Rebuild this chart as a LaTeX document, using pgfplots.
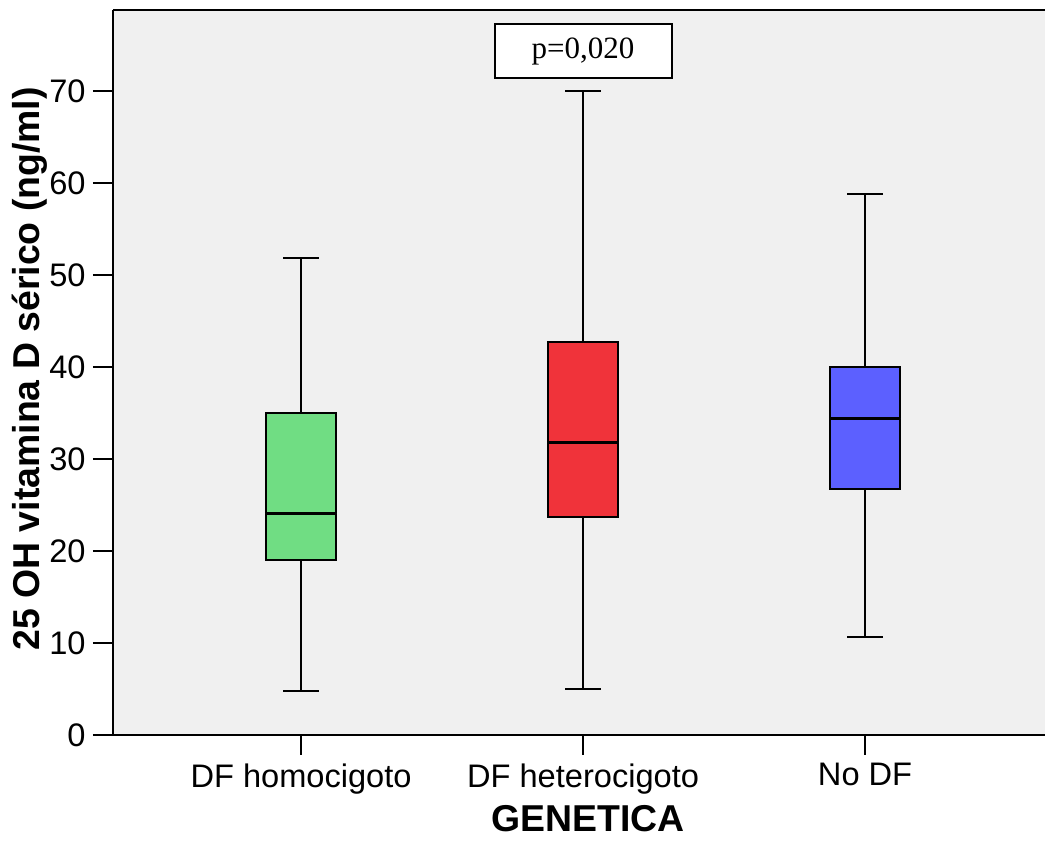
\documentclass[border=0pt]{standalone}
\usepackage{pgfplots}
\pgfplotsset{compat=1.18}
\usepgfplotslibrary{statistics}
\usetikzlibrary{calc}
\usepackage{fontspec}
\setmainfont{Liberation Sans}
\newfontfamily\serifp{Liberation Serif}
\definecolor{bg}{RGB}{240,240,240}
\definecolor{boxgreen}{RGB}{112,221,131}
\definecolor{boxred}{RGB}{240,51,58}
\definecolor{boxblue}{RGB}{92,96,255}

\begin{document}
\begin{tikzpicture}
\begin{axis}[
  scale only axis, width=466pt, height=362.5pt,
  xmin=-0.667, xmax=2.638, ymin=0, ymax=78.8,
  axis background/.style={fill=bg},
  axis x line=box, axis y line*=left,
  xtick={0,1,2},
  xticklabels={DF homocigoto, DF heterocigoto, No DF},
  ytick={0,10,...,70},
  tick align=outside, xtick pos=left, ytick pos=left,
  major tick length=10pt,
  every tick/.style={black, line width=1pt},
  axis line style={line width=1pt, black},
  tick label style={font=\fontsize{16.3}{19}\selectfont},
  /pgf/number format/assume math mode=true,
  yticklabel style={inner sep=0pt, xshift=-3.5pt},
  xticklabel style={inner sep=0pt, yshift=-4pt},
  xlabel={GENETICA},
  ylabel={25 OH vitamina D sérico (ng/ml)},
  label style={font=\bfseries\fontsize{18.7}{22}\selectfont},
  xlabel style={at={(axis description cs:0.510,-0.115)}, anchor=center},
  ylabel style={at={(axis description cs:-0.089,0.505)}, anchor=center},
  boxplot/box extend=0.25,
  boxplot/whisker extend=0.128,
  boxplot/every median/.style={line width=1.6pt},
  boxplot/draw direction=y,
  clip=false,
]
% five-number summaries per group
\addplot+[boxplot prepared={draw position=0, lower whisker=4.77,
  lower quartile=18.99, median=24.07, upper quartile=34.96,
  upper whisker=51.86}, fill=boxgreen, draw=black, solid,
  line width=1pt, mark=none]
  coordinates {};
\addplot+[boxplot prepared={draw position=1, lower whisker=4.95,
  lower quartile=23.70, median=31.80, upper quartile=42.68,
  upper whisker=70.0}, fill=boxred, draw=black, solid,
  line width=1pt, mark=none]
  coordinates {};
\addplot+[boxplot prepared={draw position=2, lower whisker=10.64,
  lower quartile=26.75, median=34.37, upper quartile=39.96,
  upper whisker=58.79}, fill=boxblue, draw=black, solid,
  line width=1pt, mark=none]
  coordinates {};
\node[draw, line width=1pt, fill=white, minimum width=88.5pt,
  minimum height=27pt, inner sep=0pt,
  font=\serifp\fontsize{15.5}{18}\selectfont] at (axis cs:1,74.3) {p=0,020};
\coordinate (SW) at (rel axis cs:0,0);
\coordinate (NE) at (rel axis cs:1,1);
\end{axis}
\pgfresetboundingbox
\path ($(SW)+(-56.5pt,-55.5pt)$) rectangle ($(NE)+(0pt,5pt)$);
\end{tikzpicture}
\end{document}
